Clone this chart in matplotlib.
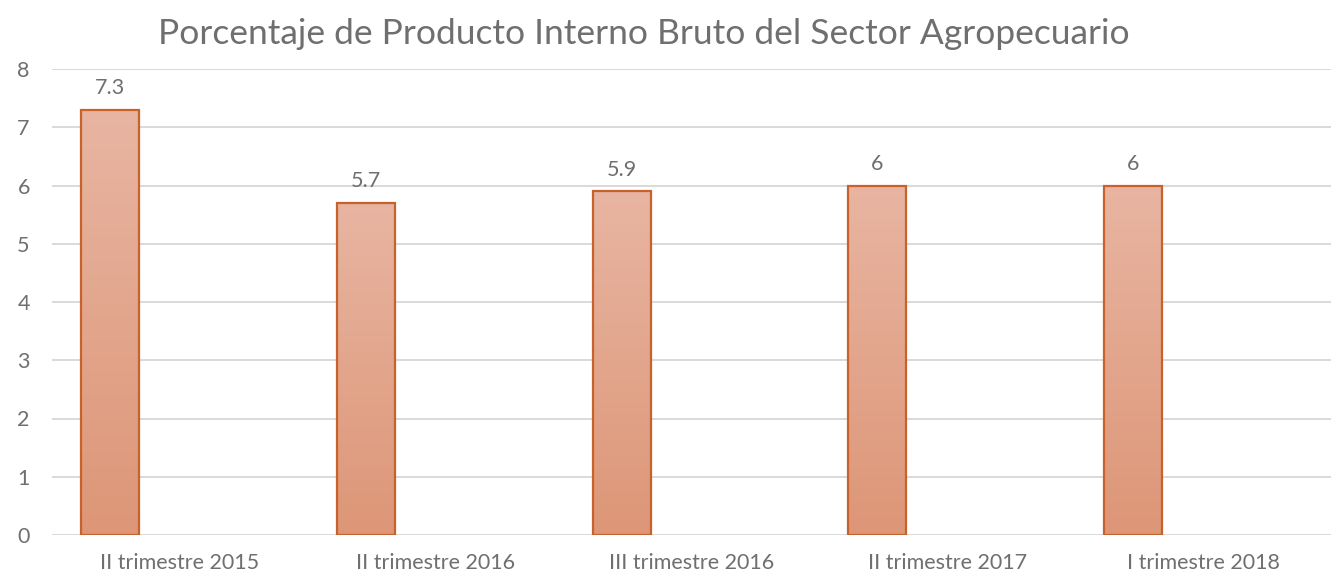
import numpy as np
import matplotlib
matplotlib.use("Agg")
import matplotlib.pyplot as plt
from matplotlib.colors import LinearSegmentedColormap

# data
categories = ["II trimestre 2015", "II trimestre 2016", "III trimestre 2016",
              "II trimestre 2017", "I trimestre 2018"]
values = [7.3, 5.7, 5.9, 6, 6]
value_labels = ["7.3", "5.7", "5.9", "6", "6"]
title = "Porcentaje de Producto Interno Bruto del Sector Agropecuario"

plt.rcParams['font.family'] = ['Lato', 'DejaVu Sans']
txt = '#6f6f6f'

fig = plt.figure(figsize=(13.31, 5.76), dpi=100)
ax = fig.add_axes([52/1331, 41/576, 1279/1331, 466/576])

x = np.arange(len(categories))
offset = -70/256
width = 58/256

# gradient fill, lighter at top
cmap = LinearSegmentedColormap.from_list('bar', ['#dd9677', '#e8b5a2'])
grad = np.linspace(0, 1, 256).reshape(-1, 1)

bars = ax.bar(x + offset, values, width=width, color='none',
              edgecolor='#c8622a', linewidth=1.6, zorder=3)
for b in bars:
    im = ax.imshow(grad, cmap=cmap, origin='lower', aspect='auto',
                   extent=[b.get_x(), b.get_x() + b.get_width(), 0, b.get_height()],
                   zorder=2)
    im.set_clip_path(b)

for xi, v, lab in zip(x, values, value_labels):
    ax.text(xi + offset, v + 0.2, lab, ha='center', va='bottom',
            fontsize=15.5, color=txt)

ax.set_xlim(-0.5, len(categories) - 0.5)
ax.set_ylim(0, 8)
ax.set_yticks(range(0, 9))
ax.set_xticks(x)
ax.set_xticklabels(categories)
ax.tick_params(axis='both', length=0, labelsize=15.5, colors=txt)
ax.tick_params(axis='x', pad=13)
ax.tick_params(axis='y', pad=16)
ax.yaxis.grid(True, color='#d9d9d9', linewidth=1.4, zorder=0)
ax.set_axisbelow(True)
for s in ax.spines.values():
    s.set_visible(False)

fig.text(644/1331, 1 - 34/576, title, ha='center', va='center',
         fontsize=25.5, color=txt)

fig.savefig('out.png', dpi=100)
